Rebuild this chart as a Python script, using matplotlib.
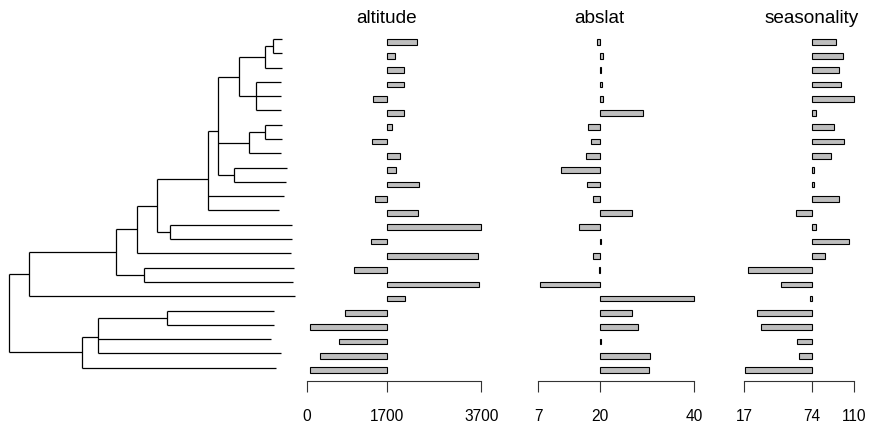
import matplotlib
matplotlib.use("Agg")
import matplotlib.pyplot as plt
import matplotlib.transforms as mtransforms

plt.rcParams['font.family'] = ['Liberation Sans', 'DejaVu Sans']

# tip heights (distance from root), tips listed top to bottom
tip_height = [272.4, 272.4, 272.4, 271.4, 271.4, 271.4, 272.4, 272.4, 271.4,
              278.0, 276.7, 274.7, 269.4, 282.7, 282.7, 281.4, 284.4, 283.7,
              285.4, 265.0, 265.0, 262.0, 271.7, 266.7]

# internal nodes: (height, [children]); ints are tip indices
tree = (0.0, [
    (19.7, [
        (106.4, [
            (127.4, [
                (148.0, [
                    (198.5, [
                        (209.0, [
                            (229.7, [
                                (256.0, [(263.4, [0, 1]), 2]),
                                (246.4, [3, 4, 5]),
                            ]),
                            (240.0, [(256.0, [6, 7]), 8]),
                            (225.0, [9, 10]),
                        ]),
                        11, 12,
                    ]),
                    (160.7, [13, 14]),
                ]),
                15,
            ]),
            (134.7, [16, 17]),
        ]),
        18,
    ]),
    (73.0, [
        (88.4, [(157.4, [19, 20]), 21, 22]),
        23,
    ]),
])

traits = ['altitude', 'abslat', 'seasonality']
altitude = [2342, 1877, 2061, 2061, 1411, 2054, 1813, 1390, 1969, 1898, 2372, 1446,
            2364, 3698, 1362, 3621, 1002, 3655, 2089, 805, 77, 684, 275, 77]
abslat = [19.4, 20.6, 20.2, 20.4, 20.6, 29.2, 17.5, 18.2, 17.1, 11.9, 17.2, 18.6,
          26.8, 15.6, 20.3, 18.5, 19.9, 7.4, 40.0, 26.9, 28.1, 20.3, 30.6, 30.4]
seasonality = [94.9, 100.2, 97.4, 98.5, 110.0, 77.9, 93.2, 101.4, 90.4, 76.2, 76.2, 97.4,
               61.0, 77.9, 105.3, 85.3, 20.0, 48.2, 72.3, 27.9, 30.8, 61.8, 63.0, 17.2]
trait_values = [altitude, abslat, seasonality]
trait_ticks = [[0, 1700, 3700], [7, 20, 40], [17, 74, 110]]

W, H = 870, 425
fig = plt.figure(figsize=(W / 100, H / 100), dpi=100)


def draw_node(ax, node):
    # returns (x, y) of the node, draws its clade
    if isinstance(node, int):
        return tip_height[node], node + 1
    h, kids = node
    pts = [draw_node(ax, k) for k in kids]
    ys = [p[1] for p in pts]
    y = sum(ys) / len(ys)
    ax.plot([h, h], [min(ys), max(ys)], color='black', lw=0.9, solid_capstyle='butt')
    for kx, ky in pts:
        ax.plot([h, kx], [ky, ky], color='black', lw=0.9, solid_capstyle='butt')
    return h, y


# tree panel
tax = fig.add_axes([0, 1 - 374.8 / H, 300 / W, 342.9 / H])
rx, ry = draw_node(tax, tree)
tax.plot([rx - 0.5, rx], [ry, ry], color='black', lw=0.9)
tax.set_xlim(-9.3, 290.7)
tax.set_ylim(24.5, 0.5)
tax.axis('off')

# bar panels
panel_px = [(306.7, 481.3), (538.3, 694.3), (744.3, 854.3)]
n = len(tip_height)
for name, vals, ticks, (x0, x1) in zip(traits, trait_values, trait_ticks, panel_px):
    ax = fig.add_axes([x0 / W, 1 - 381 / H, (x1 - x0) / W, 351 / H])
    base = ticks[1]
    ax.barh(range(1, n + 1), [v - base for v in vals], left=base, height=0.4,
            color='#BEBEBE', edgecolor='black', linewidth=0.8, clip_on=False)
    ax.set_xlim(ticks[0], ticks[-1])
    ax.set_ylim(24.77, 0.18)
    for s in ['top', 'right', 'left']:
        ax.spines[s].set_visible(False)
    ax.spines['bottom'].set_linewidth(0.8)
    ax.spines['bottom'].set_color('#333333')
    ax.set_yticks([])
    ax.set_xticks(ticks)
    ax.set_xticklabels([str(t) for t in ticks])
    ax.tick_params(axis='x', length=8, width=0.8, color='#333333', pad=12, labelsize=11.2)
    trans = mtransforms.blended_transform_factory(ax.transData, fig.transFigure)
    ax.text(base, 1 - 22.7 / H, name, transform=trans, ha='center', va='baseline',
            fontsize=13.7)

fig.savefig('out.png', dpi=100)
